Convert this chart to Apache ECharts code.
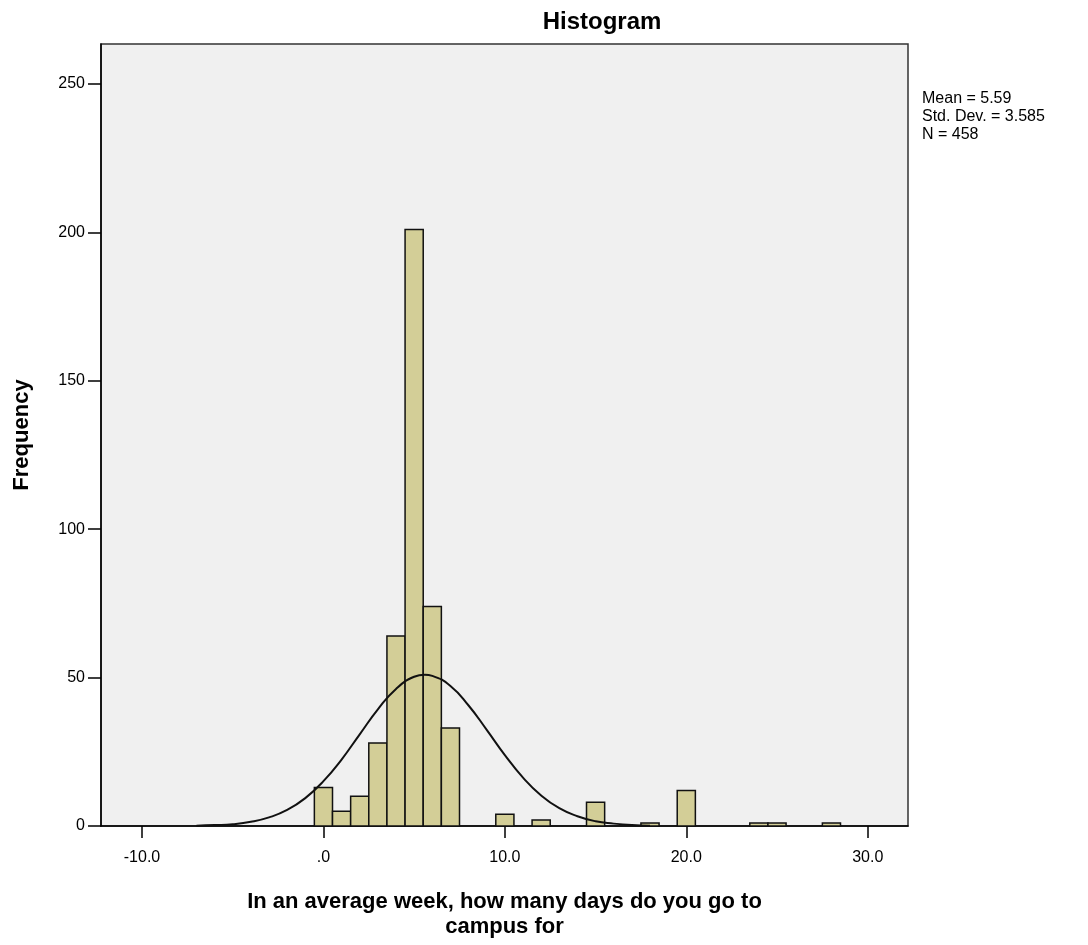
<!DOCTYPE html>
<html>
<head>
<meta charset="utf-8">
<script src="https://cdn.jsdelivr.net/npm/echarts@6/dist/echarts.min.js"></script>
<style>html,body{margin:0;padding:0;background:#fff}#c{width:1088px;height:945px}</style>
</head>
<body>
<div id="c"></div>
<script>
// Histogram bins (bin centre, width 1) and counts
const binCenters = [0, 1, 2, 3, 4, 5, 6, 7, 10, 12, 15, 18, 20, 24, 25, 28];
const binCounts  = [13, 5, 10, 28, 64, 201, 74, 33, 4, 2, 8, 1, 12, 1, 1, 1];
// Normal curve points
const curveX = [-7, -6, -5, -4, -3, -2, -1, 0, 1, 2, 3, 4, 5, 5.59, 6, 7, 8, 9, 10, 11, 12, 13, 14, 15, 16, 17, 18];
const curveY = [0.1, 0.3, 0.6, 1.4, 2.9, 5.4, 9.4, 15.1, 22.4, 30.9, 39.3, 46.2, 50.3, 51.0, 50.6, 47.2, 40.6, 32.4, 23.9, 16.3, 10.3, 6.0, 3.3, 1.6, 0.8, 0.3, 0.1];
const xTicks = [-10, 0, 10, 20, 30];
const yTicks = [0, 50, 100, 150, 200, 250];
const statsLines = ['Mean = 5.59', 'Std. Dev. = 3.585', 'N = 458'];
const titleText = 'Histogram';
const xName = 'In an average week, how many days do you go to\ncampus for';
const yName = 'Frequency';

const chart = echarts.init(document.getElementById('c'));
const font = '"Liberation Sans", Arial, sans-serif';
chart.setOption({
  animation: false,
  backgroundColor: '#fff',
  title: {
    text: titleText, left: 597, top: 5, textAlign: 'center',
    textStyle: {fontFamily: font, fontSize: 24, fontWeight: 'bold', color: '#000'}
  },
  graphic: [{
    type: 'text', left: 922, top: 90,
    style: {text: statsLines.join('\n'), font: '16px ' + font, fill: '#000', lineHeight: 18}
  }],
  grid: {left: 101, right: 180, top: 44, bottom: 119, show: true, backgroundColor: '#F0F0F0', borderColor: '#333', borderWidth: 1.5},
  xAxis: {
    type: 'value', min: -12.26, max: 32.22,
    name: xName, nameLocation: 'middle', nameGap: 63,
    nameTextStyle: {fontFamily: font, fontSize: 22, fontWeight: 'bold', color: '#000', lineHeight: 25},
    axisLine: {show: true, onZero: false, lineStyle: {color: '#000', width: 1.5}},
    axisTick: {show: true, length: 12, lineStyle: {color: '#000', width: 1.5}, customValues: xTicks},
    axisLabel: {customValues: xTicks, fontFamily: font, fontSize: 16, color: '#000', margin: 24,
      formatter: v => v === 0 ? '.0' : v.toFixed(1)},
    splitLine: {show: false}
  },
  yAxis: {
    type: 'value', min: 0, max: 263.5,
    name: yName, nameLocation: 'middle', nameGap: 68, nameRotate: 90,
    nameTextStyle: {fontFamily: font, fontSize: 22, fontWeight: 'bold', color: '#000'},
    axisLine: {show: true, onZero: false, lineStyle: {color: '#000', width: 1.5}},
    axisTick: {show: true, length: 13, lineStyle: {color: '#000', width: 1.5}, customValues: yTicks},
    axisLabel: {customValues: yTicks, fontFamily: font, fontSize: 16, color: '#000', margin: 16},
    splitLine: {show: false}
  },
  series: [{
    type: 'custom',
    data: binCenters.map((c, i) => [c, binCounts[i]]),
    renderItem: (params, api) => {
      const c = api.value(0), v = api.value(1);
      const p0 = api.coord([c - 0.5, 0]);
      const p1 = api.coord([c + 0.5, v]);
      return {
        type: 'rect',
        shape: {x: p0[0], y: p1[1], width: p1[0] - p0[0], height: p0[1] - p1[1]},
        style: {fill: '#D3CE97', stroke: '#111', lineWidth: 1.5}
      };
    },
    z: 2
  }, {
    type: 'line',
    data: curveX.map((x, i) => [x, curveY[i]]),
    smooth: true, showSymbol: false,
    lineStyle: {color: '#111', width: 2},
    z: 3
  }]
});
</script>
</body>
</html>
